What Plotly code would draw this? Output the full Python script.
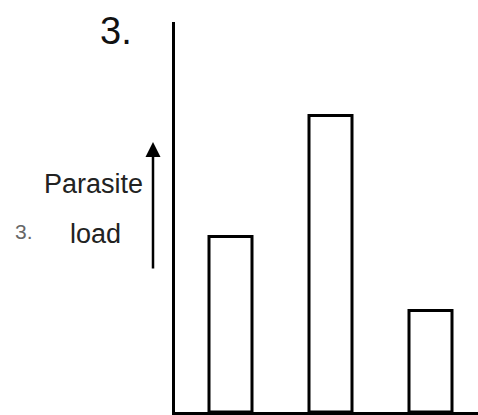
import plotly.graph_objects as go

categories = ["A", "B", "C"]
parasite_load = [45, 76, 26]

FONT = "Liberation Sans, Arial, sans-serif"

fig = go.Figure()
fig.add_trace(go.Bar(
    x=categories, y=parasite_load, width=0.43, hoverinfo="skip",
    marker=dict(color="white", line=dict(color="black", width=3)),
))

W, H = 478, 415
L, R, T, B = 175, 0, 22, 3
pw, ph = W - L - R, H - T - B

def px(x):
    return (x - L) / pw

def py(y):
    return (H - B - y) / ph

annotations = [
    dict(text="3.", x=px(116), y=py(31), font=dict(size=38, color="#111")),
    dict(text="Parasite", x=px(93), y=py(184), font=dict(size=27, color="#222")),
    dict(text="load", x=px(95), y=py(234), font=dict(size=27, color="#222")),
    dict(text="3.", x=px(24), y=py(231), font=dict(size=21, color="#666")),
]
for a in annotations:
    a.update(xref="paper", yref="paper", showarrow=False, xanchor="center", yanchor="middle")

annotations.append(dict(
    x=px(153), y=py(142), xref="paper", yref="paper",
    ax=0, ay=128, axref="pixel", ayref="pixel",
    showarrow=True, arrowhead=2, arrowsize=1.2, arrowwidth=2.5, arrowcolor="black", text="",
))

fig.update_layout(
    width=W, height=H,
    margin=dict(l=L, r=R, t=T, b=B, pad=0),
    paper_bgcolor="white", plot_bgcolor="white",
    showlegend=False,
    font=dict(family=FONT),
    annotations=annotations,
    xaxis=dict(range=[-0.555, 2.475], showline=True, linecolor="black", linewidth=3,
               showticklabels=False, ticks="", showgrid=False, zeroline=False),
    yaxis=dict(range=[0, 100], showline=True, linecolor="black", linewidth=3,
               showticklabels=False, ticks="", showgrid=False, zeroline=False),
)

fig.write_html(
    "out.html",
    config={"displayModeBar": False, "staticPlot": True},
    post_script="document.body.style.margin='0px';document.body.style.overflow='hidden';",
)
